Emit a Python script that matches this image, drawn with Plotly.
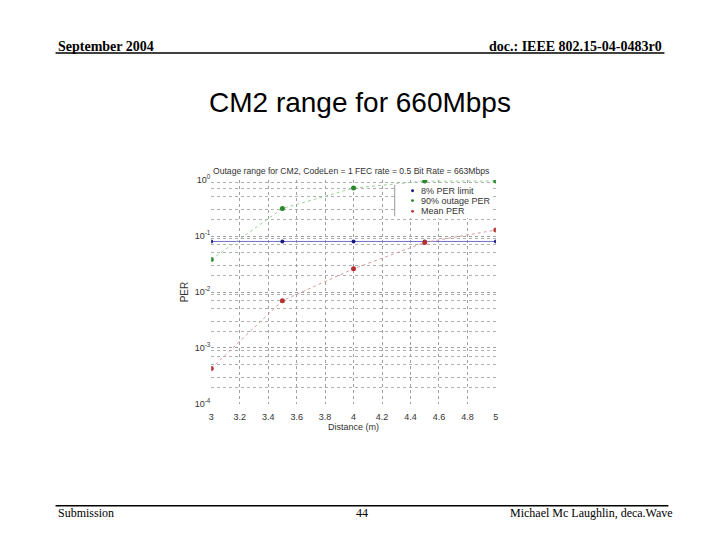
import plotly.graph_objects as go

distance = [3, 3.5, 4, 4.5, 5]
per_limit = [0.08, 0.08, 0.08, 0.08, 0.08]
outage_90 = [0.038, 0.31, 0.72, 0.96, 0.96]
mean_per = [0.00043, 0.007, 0.026, 0.077, 0.128]

x_ticks = [3, 3.2, 3.4, 3.6, 3.8, 4, 4.2, 4.4, 4.6, 4.8, 5]
y_ticks = [1e-4, 1e-3, 1e-2, 1e-1, 1]
y_ticktext = ["10<sup>-4</sup>", "10<sup>-3</sup>", "10<sup>-2</sup>", "10<sup>-1</sup>", "10<sup>0</sup>"]
y_minor = [m * d for d in (1e-4, 1e-3, 1e-2, 1e-1) for m in (2, 3, 5, 7, 9)]

legend_names = ["8% PER limit", "90% outage PER", "Mean PER"]
legend_colors = ["#1a1a80", "#2a8a2a", "#b83030"]

W, H = 720, 540
def px(x): return x / W
def py(y): return 1 - y / H

fig = go.Figure()
fig.add_trace(go.Scatter(x=distance, y=per_limit, mode="lines+markers", name=legend_names[0],
                         line=dict(color="#7070d0", width=1),
                         marker=dict(color=legend_colors[0], size=4)))
fig.add_trace(go.Scatter(x=distance, y=outage_90, mode="lines+markers", name=legend_names[1],
                         line=dict(color="#9ccf9c", width=1, dash="dot"),
                         marker=dict(color=legend_colors[1], size=5)))
fig.add_trace(go.Scatter(x=distance, y=mean_per, mode="lines+markers", name=legend_names[2],
                         line=dict(color="#d99a9a", width=1, dash="dot"),
                         marker=dict(color=legend_colors[2], size=5)))

axis_font = dict(family="Arial, Liberation Sans", size=9, color="#333333")
fig.update_layout(
    width=W, height=H, paper_bgcolor="white", plot_bgcolor="white",
    margin=dict(l=0, r=0, t=0, b=0), autosize=False,
    showlegend=False,
    xaxis=dict(domain=[px(210), px(497)], range=[3, 5], tickvals=x_ticks,
               ticktext=[f"{v:g}" for v in x_ticks], tickfont=axis_font,
               showgrid=True, gridcolor="#a0a0a0", griddash="dot", gridwidth=1,
               showline=False, zeroline=False, ticks="", ticklen=0,
               ticklabelstandoff=6,
               title=dict(text="Distance (m)", font=axis_font, standoff=1)),
    yaxis=dict(domain=[py(406), py(177)], type="log", range=[-4, 0], tickvals=y_ticks,
               ticktext=y_ticktext, tickfont=axis_font,
               showgrid=True, gridcolor="#a0a0a0", griddash="dot", gridwidth=1,
               minor=dict(tickvals=y_minor, showgrid=True, gridcolor="#b0b0b0",
                          griddash="dot", ticks=""),
               showline=False, zeroline=False, ticks="",
               title=dict(text="PER", font=dict(family="Arial, Liberation Sans", size=10,
                                                 color="#333333"), standoff=4)),
)

serif = "Liberation Serif, Times New Roman"
ann = [
    dict(text="<b>September 2004</b>", x=px(53), y=py(40), xanchor="left", yanchor="middle",
         font=dict(family=serif, size=14, color="black")),
    dict(text="<b>doc.: IEEE 802.15-04-0483r0</b>", x=px(667), y=py(40), xanchor="right",
         yanchor="middle", font=dict(family=serif, size=14, color="black")),
    dict(text="CM2 range for 660Mbps", x=px(360), y=py(98), xanchor="center", yanchor="middle",
         font=dict(family="Liberation Sans, Arial", size=28, color="black")),
    dict(text="Outage range for CM2, CodeLen = 1 FEC rate = 0.5 Bit Rate = 663Mbps",
         x=px(351), y=py(168), xanchor="center", yanchor="middle",
         font=dict(family="Arial, Liberation Sans", size=8.6, color="#333333")),
    dict(text="Submission", x=px(53), y=py(517), xanchor="left", yanchor="middle",
         font=dict(family=serif, size=12, color="black")),
    dict(text="44", x=px(362), y=py(517), xanchor="center", yanchor="middle",
         font=dict(family=serif, size=12, color="black")),
    dict(text="Michael Mc Laughlin, deca.Wave", x=px(678), y=py(517), xanchor="right",
         yanchor="middle", font=dict(family=serif, size=12, color="black")),
]
leg_rows = [188, 198, 209]
shapes = [
    dict(type="line", xref="paper", yref="paper", x0=px(53), x1=px(667), y0=py(47), y1=py(47),
         line=dict(color="black", width=1.5)),
    dict(type="line", xref="paper", yref="paper", x0=px(53), x1=px(671), y0=py(510), y1=py(510),
         line=dict(color="black", width=1.5)),
    dict(type="rect", xref="paper", yref="paper", x0=px(395), x1=px(493), y0=py(216), y1=py(181),
         fillcolor="white", line=dict(width=0), layer="above"),
    dict(type="line", xref="paper", yref="paper", x0=px(395), x1=px(395), y0=py(182), y1=py(214),
         line=dict(color="#999999", width=1)),
]
for name, col, ry in zip(legend_names, legend_colors, leg_rows):
    ann.append(dict(text=name, x=px(419), y=py(ry), xanchor="left", yanchor="middle",
                    font=dict(family="Arial, Liberation Sans", size=9, color="#333333")))
    shapes.append(dict(type="circle", xref="paper", yref="paper",
                       x0=px(411.5), x1=px(414.5), y0=py(ry + 1.5), y1=py(ry - 1.5),
                       fillcolor=col, line=dict(color=col, width=0)))
for a in ann:
    a.update(xref="paper", yref="paper", showarrow=False)
fig.update_layout(annotations=ann, shapes=shapes)

fig.write_html("out.html", config={"displayModeBar": False},
               post_script="document.body.style.margin='0px';document.body.style.overflow='hidden';")
